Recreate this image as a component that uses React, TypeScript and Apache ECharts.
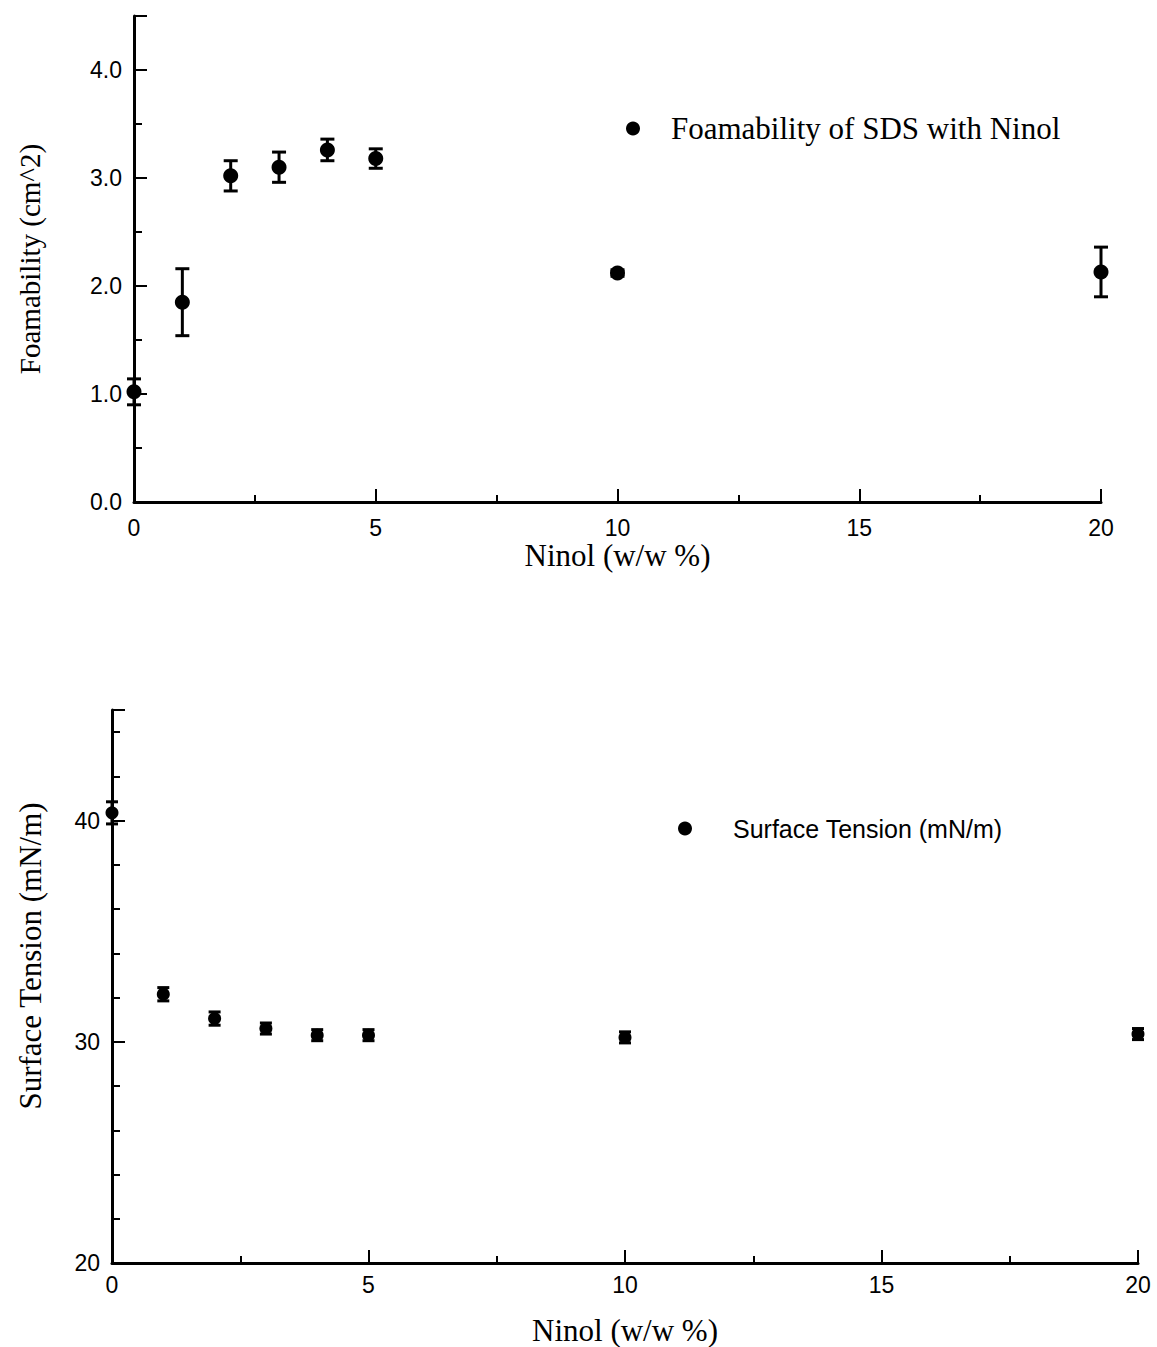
import React, { useEffect, useRef } from "react";
import * as echarts from "echarts";

const ninol = [0, 1, 2, 3, 4, 5, 10, 20];
const foamability = [1.02, 1.85, 3.02, 3.1, 3.26, 3.18, 2.12, 2.13];
const foamErr = [0.12, 0.31, 0.14, 0.14, 0.1, 0.09, 0.03, 0.23];
const tension = [40.35, 32.15, 31.05, 30.6, 30.3, 30.3, 30.2, 30.35];
const tensionErr = [0.5, 0.3, 0.3, 0.25, 0.25, 0.25, 0.25, 0.25];

const xTicks = [0, 5, 10, 15, 20];
const foamTicks = [0, 1, 2, 3, 4];
const tensionTicks = [20, 30, 40];

const SANS = "Liberation Sans, Arial, sans-serif";
const SERIF = "Liberation Serif, Times New Roman, serif";

function errRender(capHalf: number) {
  return (params: any, api: any) => {
    const x = api.value(0);
    const lo = api.coord([x, api.value(1)]);
    const hi = api.coord([x, api.value(2)]);
    const style = { stroke: "#000", lineWidth: 3 };
    return {
      type: "group",
      children: [
        { type: "line", shape: { x1: lo[0], y1: lo[1], x2: hi[0], y2: hi[1] }, style },
        { type: "line", shape: { x1: lo[0] - capHalf, y1: lo[1], x2: lo[0] + capHalf, y2: lo[1] }, style },
        { type: "line", shape: { x1: hi[0] - capHalf, y1: hi[1], x2: hi[0] + capHalf, y2: hi[1] }, style },
      ],
    };
  };
}

export default function App() {
  const ref = useRef<HTMLDivElement>(null);
  useEffect(() => {
    document.body.style.margin = "0";
    const chart = echarts.init(ref.current!, undefined, { renderer: "svg" });
    const axisLine = { show: true, lineStyle: { color: "#000", width: 3 } };
    const tickStyle = { color: "#000", width: 2 };
    const xAxisBase = (gridIndex: number, nameGap: number, labelMargin: number) => ({
      type: "value",
      gridIndex,
      min: 0,
      max: 20,
      interval: 5,
      name: "Ninol (w/w %)",
      nameLocation: "middle",
      nameGap,
      nameTextStyle: { fontFamily: SERIF, fontSize: 31, color: "#000" },
      axisLine,
      axisTick: { show: true, inside: true, length: 13, lineStyle: tickStyle },
      minorTick: { show: true, splitNumber: 2, length: 7, lineStyle: tickStyle },
      axisLabel: {
        fontFamily: SANS,
        fontSize: 23,
        color: "#000",
        margin: labelMargin,
        formatter: (v: number) => (xTicks.includes(v) ? String(v) : ""),
      },
      splitLine: { show: false },
      minorSplitLine: { show: false },
    });
    chart.setOption({
      animation: false,
      backgroundColor: "#fff",
      grid: [
        { left: 134, right: 56, top: 16, height: 486 },
        { left: 112, right: 19, top: 710, height: 554 },
      ],
      legend: [
        {
          data: ["Foamability of SDS with Ninol"],
          left: 621,
          top: 108,
          icon: "circle",
          itemWidth: 66,
          itemHeight: 14,
          textStyle: { fontFamily: SERIF, fontSize: 31, color: "#000" },
          selectedMode: false,
        },
        {
          data: ["Surface Tension (mN/m)"],
          left: 673,
          top: 811,
          icon: "circle",
          itemWidth: 86,
          itemHeight: 14,
          textStyle: { fontFamily: SANS, fontSize: 25, color: "#000" },
          selectedMode: false,
        },
      ],
      graphic: [
        {
          type: "text",
          x: 30,
          y: 956,
          rotation: Math.PI / 2,
          style: {
            text: "Surface Tension (mN/m)",
            fontFamily: SERIF,
            fontSize: 31,
            fill: "#000",
            textAlign: "center",
            textVerticalAlign: "middle",
          },
        },
      ],
      xAxis: [xAxisBase(0, 36, 14), xAxisBase(1, 52, 10)],
      yAxis: [
        {
          type: "value",
          gridIndex: 0,
          min: 0,
          max: 4.5,
          interval: 1,
          name: "Foamability (cm^2)",
          nameLocation: "middle",
          nameGap: 90,
          nameTextStyle: { fontFamily: SERIF, fontSize: 29, color: "#000" },
          axisLine,
          axisTick: { show: true, inside: true, length: 13, lineStyle: tickStyle },
          minorTick: { show: true, splitNumber: 2, length: 8, lineStyle: tickStyle },
          axisLabel: {
            fontFamily: SANS,
            fontSize: 23,
            color: "#000",
            margin: 12,
            formatter: (v: number) => (foamTicks.includes(v) ? v.toFixed(1) : ""),
          },
          splitLine: { show: false },
        },
        {
          type: "value",
          gridIndex: 1,
          min: 20,
          max: 45,
          interval: 10,
          axisLine,
          axisTick: { show: true, inside: true, length: 13, lineStyle: tickStyle },
          minorTick: { show: true, splitNumber: 5, length: 8, lineStyle: tickStyle },
          axisLabel: {
            fontFamily: SANS,
            fontSize: 23,
            color: "#000",
            margin: 12,
            formatter: (v: number) => (tensionTicks.includes(v) ? String(v) : ""),
          },
          splitLine: { show: false },
        },
      ],
      series: [
        {
          name: "foamErr",
          type: "custom",
          xAxisIndex: 0,
          yAxisIndex: 0,
          renderItem: errRender(7),
          data: ninol.map((x, i) => [x, foamability[i] - foamErr[i], foamability[i] + foamErr[i]]),
          z: 2,
        },
        {
          name: "Foamability of SDS with Ninol",
          type: "scatter",
          xAxisIndex: 0,
          yAxisIndex: 0,
          symbol: "circle",
          symbolSize: 15,
          clip: false,
          itemStyle: { color: "#000", opacity: 1 },
          data: ninol.map((x, i) => [x, foamability[i]]),
          z: 3,
        },
        {
          name: "tensionErr",
          type: "custom",
          xAxisIndex: 1,
          yAxisIndex: 1,
          renderItem: errRender(6),
          data: ninol.map((x, i) => [x, tension[i] - tensionErr[i], tension[i] + tensionErr[i]]),
          z: 2,
        },
        {
          name: "Surface Tension (mN/m)",
          type: "scatter",
          xAxisIndex: 1,
          yAxisIndex: 1,
          symbol: "circle",
          symbolSize: 13,
          clip: false,
          itemStyle: { color: "#000", opacity: 1 },
          data: ninol.map((x, i) => [x, tension[i]]),
          z: 3,
        },
      ],
    });
    return () => chart.dispose();
  }, []);
  return <div ref={ref} style={{ width: 1157, height: 1347 }} />;
}
